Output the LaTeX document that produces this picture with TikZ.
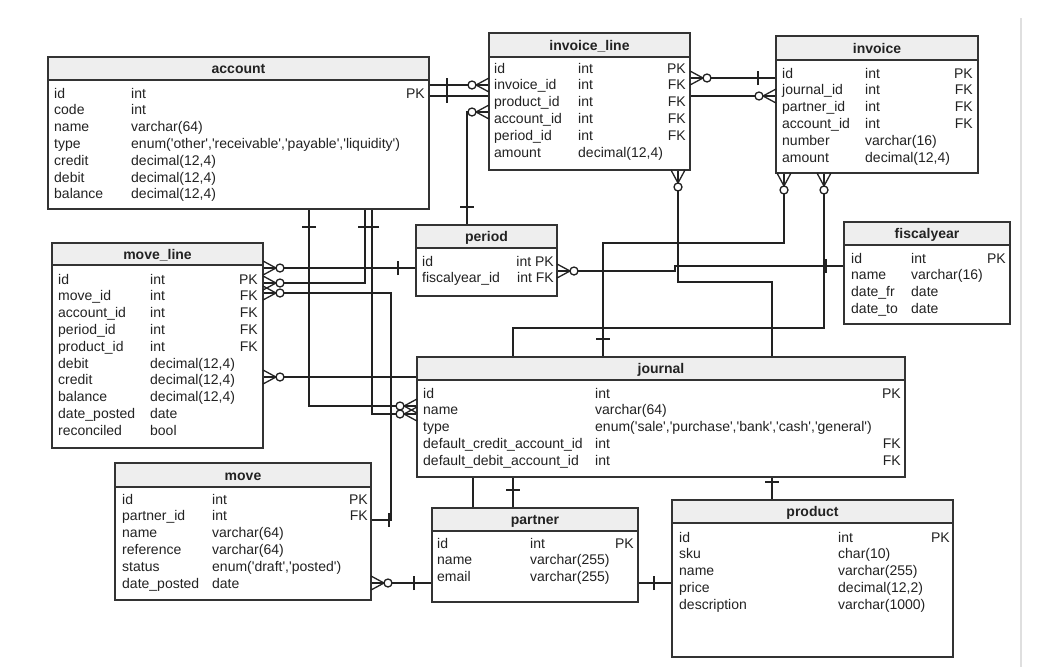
\documentclass[tikz,border=0pt]{standalone}
\usepackage{fontspec}
\setmainfont{Liberation Sans}
\usetikzlibrary{calc}
\pgfdeclarelayer{back}
\pgfdeclarelayer{bg}
\pgfsetlayers{back,bg,main}
\definecolor{hdr}{RGB}{238,238,238}
\definecolor{ink}{RGB}{34,34,34}
\definecolor{edgec}{RGB}{51,51,51}
\newcommand\q{\textquotesingle}
\tikzset{
  tbl/.style={fill=white, inner sep=0pt, outer sep=0pt},
  tblline/.style={draw=edgec, line width=1.4pt},
  ttl/.style={font=\fontsize{14}{16.8}\selectfont\bfseries, text=ink, inner sep=0pt, anchor=base},
  fld/.style={font=\fontsize{14}{16.8}\selectfont, text=ink, inner sep=0pt},
  conn/.style={draw=ink, line width=1.3pt},
  pics/crow/.style={code={
    \draw[conn] (-13pt,0pt) -- (0pt,7pt) (-13pt,0pt) -- (0pt,-7pt);
    \draw[conn,fill=white] (-17pt,0pt) circle[radius=4pt];}},
  pics/bar/.style={code={\draw[conn] (-18pt,-7pt) -- (-18pt,7pt);}},
}
\newcommand\ertable[7]{%
  \node[tbl, anchor=north west, minimum width={#4-#2}, minimum height={#5-#3}] (#1) at (#2,#3) {};
  \fill[hdr] (#1.north west) rectangle (#1.east |- 0,#6);
  \draw[tblline] (#1.west |- 0,#6) -- (#1.east |- 0,#6);
  \draw[tblline] (#1.north west) rectangle (#1.south east);
  \node[ttl] (#1-title) at ({(#2+#4)/2},{(#3+#6)/2+5}) {#7};
}
\newcommand\fields[5]{\node[fld,anchor=base west] (#1-f) at (#2,#3) {\begin{tabular}[t]{@{}p{#4pt}@{}l@{}}#5\end{tabular}};}
\newcommand\keys[4]{\node[fld,anchor=base east] (#1-k) at (#2,#3) {\begin{tabular}[t]{@{}r@{}}#4\end{tabular}};}

\begin{document}
\begin{tikzpicture}[x=1pt,y=-1pt]
\begin{pgfonlayer}{back}
  \fill[white] (0,0) rectangle (1047,667);
  \draw[gray!25, line width=1.5pt] (1021,18) -- (1021,667);
\end{pgfonlayer}
\useasboundingbox (0,0) rectangle (1047,667);

% tables
\ertable{account}{48}{57}{429}{209}{80}{account}
\fields{account}{54}{98}{77}{id & int\\ code & int\\ name & varchar(64)\\ type & enum(\q other\q,\q receivable\q,\q payable\q,\q liquidity\q)\\ credit & decimal(12,4)\\ debit & decimal(12,4)\\ balance & decimal(12,4)}
\keys{account}{425}{98}{PK}

\ertable{invline}{489}{33}{690}{170}{57}{invoice\_line}
\fields{invline}{494}{73}{84}{id & int\\ invoice\_id & int\\ product\_id & int\\ account\_id & int\\ period\_id & int\\ amount & decimal(12,4)}
\keys{invline}{686}{73}{PK\\FK\\FK\\FK\\FK}

\ertable{invoice}{776}{36}{978}{173}{60}{invoice}
\fields{invoice}{782}{78}{83}{id & int\\ journal\_id & int\\ partner\_id & int\\ account\_id & int\\ number & varchar(16)\\ amount & decimal(12,4)}
\keys{invoice}{973}{78}{PK\\FK\\FK\\FK}

\ertable{moveline}{52}{243}{263}{448}{265}{move\_line}
\fields{moveline}{58}{284}{92}{id & int\\ move\_id & int\\ account\_id & int\\ period\_id & int\\ product\_id & int\\ debit & decimal(12,4)\\ credit & decimal(12,4)\\ balance & decimal(12,4)\\ date\_posted & date\\ reconciled & bool}
\keys{moveline}{258}{284}{PK\\FK\\FK\\FK\\FK}

\ertable{period}{416}{225}{557}{296}{248}{period}
\fields{period}{422}{266}{90}{id & \\ fiscalyear\_id & }
\keys{period}{554}{266}{int PK\\int FK}

\ertable{fiscalyear}{844}{222}{1010}{324}{245}{fiscalyear}
\fields{fiscalyear}{851}{263}{60}{id & int\\ name & varchar(16)\\ date\_fr & date\\ date\_to & date}
\keys{fiscalyear}{1006}{263}{PK}

\ertable{journal}{417}{357}{905}{477}{380}{journal}
\fields{journal}{423}{398}{172}{id & int\\ name & varchar(64)\\ type & enum(\q sale\q,\q purchase\q,\q bank\q,\q cash\q,\q general\q)\\ default\_credit\_account\_id & int\\ default\_debit\_account\_id & int}
\keys{journal}{901}{398}{PK\\ \\ \\FK\\FK}

\ertable{move}{115}{463}{371}{600}{487}{move}
\fields{move}{122}{504}{90}{id & int\\ partner\_id & int\\ name & varchar(64)\\ reference & varchar(64)\\ status & enum(\q draft\q,\q posted\q)\\ date\_posted & date}
\keys{move}{368}{504}{PK\\FK}

\ertable{partner}{432}{508}{638}{602}{531}{partner}
\fields{partner}{437}{548}{93}{id & int\\ name & varchar(255)\\ email & varchar(255)}
\keys{partner}{634}{548}{PK}

\ertable{product}{672}{500}{953}{657}{523}{product}
\fields{product}{679}{542}{159}{id & int\\ sku & char(10)\\ name & varchar(255)\\ price & decimal(12,2)\\ description & varchar(1000)}
\keys{product}{950}{542}{PK}

% connectors (under the tables)
\begin{pgfonlayer}{bg}
  \draw[conn] (account.east |- 0,85) -- (invline.west |- 0,85);
  \draw[conn] (account.east |- 0,96) -- (invoice.west |- 0,96);
  \draw[conn] (invline.east |- 0,78) -- (invoice.west |- 0,78);
  \draw[conn] (period.north -| 467,0) |- (invline.west |- 0,112);
  \draw[conn] (invline.south -| 678,0) |- (772,282) -- (product.north -| 772,0);
  \draw[conn] (invoice.south -| 784,0) |- (603,243) -- (journal.north -| 603,0);
  \draw[conn] (invoice.south -| 824,0) |- (513,328) -- (partner.north -| 513,0);
  \draw[conn] (period.east |- 0,271) -- (675,271) -- (675,266) -- (fiscalyear.west |- 0,266);
  \draw[conn] (period.west |- 0,268) -- (moveline.east |- 0,268);
  \draw[conn] (account.south -| 365,0) |- (moveline.east |- 0,283);
  \draw[conn] (move.east |- 0,520) -| (391,293) -- (moveline.east |- 0,293);
  \draw[conn] (account.south -| 309,0) |- (journal.west |- 0,406);
  \draw[conn] (account.south -| 372,0) |- (journal.west |- 0,414);
  \draw[conn] (product.west |- 0,583) -| (473,377) -- (moveline.east |- 0,377);
  \draw[conn] (move.east |- 0,583) -- (partner.west |- 0,583);
\end{pgfonlayer}

% end symbols
\pic at (invline.west |- 0,85) {crow};
\pic[rotate=180] at (account.east |- 0,85) {bar};
\pic at (invoice.west |- 0,96) {crow};
\pic[rotate=180] at (account.east |- 0,96) {bar};
\pic[rotate=180] at (invline.east |- 0,78) {crow};
\pic at (invoice.west |- 0,78) {bar};
\pic at (invline.west |- 0,112) {crow};
\pic[rotate=-90] at (period.north -| 467,0) {bar};
\pic[rotate=90] at (invline.south -| 678,0) {crow};
\pic[rotate=-90] at (product.north -| 772,0) {bar};
\pic[rotate=90] at (invoice.south -| 784,0) {crow};
\pic[rotate=-90] at (journal.north -| 603,0) {bar};
\pic[rotate=90] at (invoice.south -| 824,0) {crow};
\pic[rotate=-90] at (partner.north -| 513,0) {bar};
\pic[rotate=180] at (period.east |- 0,271) {crow};
\pic at (fiscalyear.west |- 0,266) {bar};
\pic[rotate=180] at (moveline.east |- 0,268) {crow};
\pic at (period.west |- 0,268) {bar};
\pic[rotate=180] at (moveline.east |- 0,283) {crow};
\pic[rotate=90] at (account.south -| 365,0) {bar};
\pic[rotate=180] at (moveline.east |- 0,293) {crow};
\pic[rotate=180] at (move.east |- 0,520) {bar};
\pic at (journal.west |- 0,406) {crow};
\pic[rotate=90] at (account.south -| 309,0) {bar};
\pic at (journal.west |- 0,414) {crow};
\pic[rotate=90] at (account.south -| 372,0) {bar};
\pic[rotate=180] at (moveline.east |- 0,377) {crow};
\pic at (product.west |- 0,583) {bar};
\pic[rotate=180] at (move.east |- 0,583) {crow};
\pic at (partner.west |- 0,583) {bar};
\end{tikzpicture}
\end{document}
